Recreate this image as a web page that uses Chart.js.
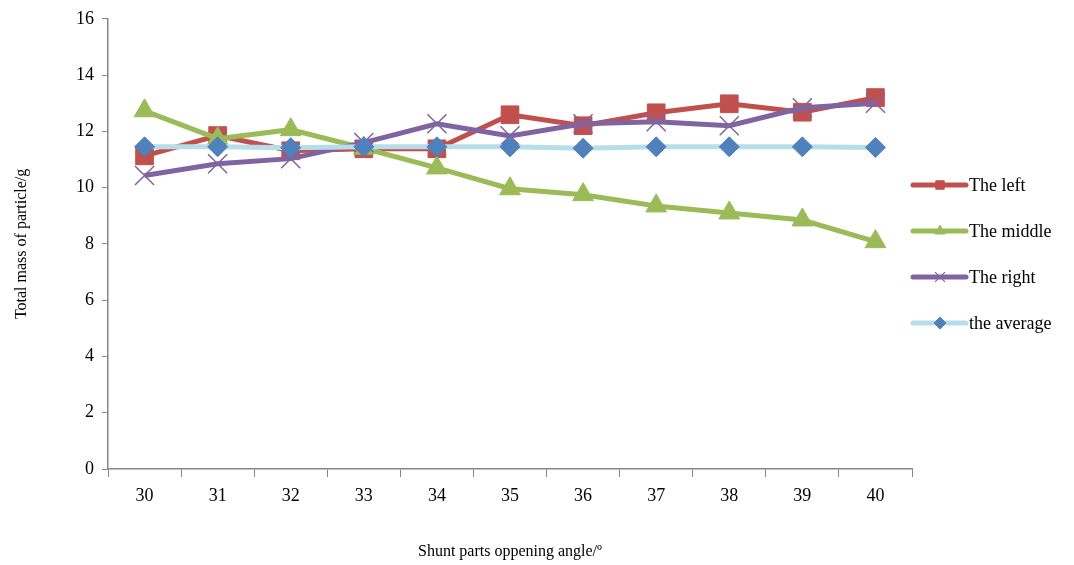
<!DOCTYPE html>
<html>
<head>
<meta charset="utf-8">
<script src="https://cdn.jsdelivr.net/npm/chart.js@4"></script>
<style>
  html, body { margin: 0; padding: 0; background: #fff; }
  #wrap { width: 1074px; height: 565px; }
</style>
</head>
<body>
<div id="wrap"><canvas id="Grafico" width="1074" height="565"></canvas></div>
<script>
'use strict';
// valores
const angulos = ['30', '31', '32', '33', '34', '35', '36', '37', '38', '39', '40'];
const esquerda = [11.13, 11.85, 11.31, 11.38, 11.38, 12.59, 12.2, 12.66, 12.98, 12.68, 13.2];
const meio = [12.73, 11.74, 12.06, 11.4, 10.7, 9.96, 9.75, 9.35, 9.1, 8.85, 8.08];
const direita = [10.43, 10.85, 11.03, 11.6, 12.27, 11.84, 12.27, 12.34, 12.2, 12.84, 13.0];
const media = [11.45, 11.45, 11.42, 11.45, 11.45, 11.45, 11.4, 11.45, 11.45, 11.45, 11.43];

const fonte = 'Liberation Serif, Times New Roman, serif';

// legenda desenhada à mão: linha + marcador
const legendaLateral = {
  id: 'legendaLateral',
  afterDraw(chart) {
    const ctx = chart.ctx;
    const ys = [185, 231, 277, 323];
    chart.data.datasets.forEach((ds, i) => {
      const y = ys[i];
      const cruz = ds.pointStyle === 'crossRot';
      ctx.save();
      ctx.strokeStyle = ds.borderColor;
      ctx.lineWidth = 5;
      ctx.lineCap = 'round';
      ctx.beginPath();
      ctx.moveTo(913, y);
      ctx.lineTo(966, y);
      ctx.stroke();
      ctx.restore();
      ctx.save();
      ctx.fillStyle = ds.pointBackgroundColor;
      ctx.strokeStyle = ds.pointBorderColor;
      ctx.lineWidth = cruz ? 1.2 : 1;
      Chart.helpers.drawPoint(ctx, {pointStyle: ds.pointStyle, radius: cruz ? 7 : 6, rotation: 0, borderWidth: ctx.lineWidth}, 940, y);
      ctx.fillStyle = '#000';
      ctx.font = '18px ' + fonte;
      ctx.textBaseline = 'middle';
      ctx.fillText(ds.label, 969, y + 1);
      ctx.restore();
    });
  }
};

const ctx = document.getElementById('Grafico');
new Chart(ctx, {
  type: 'line',
  data: {
    labels: angulos,
    datasets: [
      {
        label: 'The left', data: esquerda, order: 4,
        borderColor: '#C0504D', borderWidth: 5,
        pointStyle: 'rect', pointRadius: 12.5,
        pointBackgroundColor: '#C0504D', pointBorderColor: '#C0504D', pointBorderWidth: 1
      },
      {
        label: 'The middle', data: meio, order: 3,
        borderColor: '#9BBB59', borderWidth: 5,
        pointStyle: 'triangle', pointRadius: 12,
        pointBackgroundColor: '#9BBB59', pointBorderColor: '#9BBB59', pointBorderWidth: 1
      },
      {
        label: 'The right', data: direita, order: 2,
        borderColor: '#8064A2', borderWidth: 5,
        pointStyle: 'crossRot', pointRadius: 13.5,
        pointBackgroundColor: '#8064A2', pointBorderColor: '#8064A2', pointBorderWidth: 1.5
      },
      {
        label: 'the average', data: media, order: 1,
        borderColor: '#B7DEE8', borderWidth: 5,
        pointStyle: 'rectRot', pointRadius: 10,
        pointBackgroundColor: '#4F81BD', pointBorderColor: '#4F81BD', pointBorderWidth: 1
      }
    ]
  },
  options: {
    responsive: false,
    animation: false,
    layout: { padding: { top: 18, right: 162, left: 0, bottom: 0 } },
    plugins: { legend: { display: false }, tooltip: { enabled: false } },
    scales: {
      x: {
        offset: true,
        grid: { display: true, drawOnChartArea: false, offset: true, tickLength: 8, color: '#868686' },
        border: { color: '#868686', width: 1.5 },
        ticks: { color: '#000', font: { family: fonte, size: 18 }, padding: 8 },
        title: { display: true, text: 'Shunt parts oppening angle/\u00ba', color: '#000', font: { family: fonte, size: 16 }, padding: { top: 30 } },
        afterFit(scale) { scale.height = 96; }
      },
      y: {
        min: 0, max: 16,
        grid: { display: true, drawOnChartArea: false, tickLength: 6, color: '#868686' },
        border: { color: '#868686', width: 1.5 },
        ticks: { stepSize: 2, color: '#000', font: { family: fonte, size: 18 }, padding: 8 },
        title: { display: true, text: 'Total mass of particle/g', color: '#000', font: { family: fonte, size: 16 }, padding: { top: 12, bottom: 0 } },
        afterFit(scale) { scale.width = 108; }
      }
    }
  },
  plugins: [legendaLateral]
});
</script>
</body>
</html>
